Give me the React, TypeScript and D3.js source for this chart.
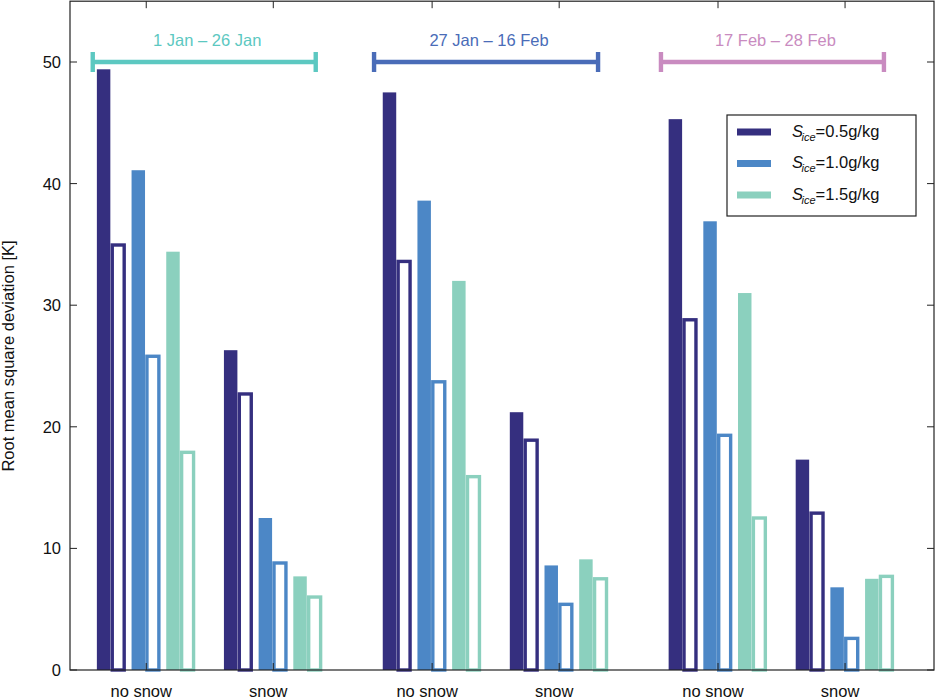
import * as d3 from "d3";

const W = 936;
const H = 698;
const FONT = "'Liberation Sans', Arial, Helvetica, sans-serif";

// groups along the x axis
const groupLabels = ["no snow", "snow", "no snow", "snow", "no snow", "snow"];
const groupPos = [1, 2, 3.25, 4.25, 5.5, 6.5];

// periods shown as brackets above the bars
const periodLabels = ["1 Jan – 26 Jan", "27 Jan – 16 Feb", "17 Feb – 28 Feb"];
const periodColors = ["#5cc8c1", "#4a6cb8", "#c98bc0"];
const periodStart = [0.579, 2.793, 5.051];
const periodEnd = [2.334, 4.556, 6.806];
const periodLevel = 50;

// S_ice series
const seriesLabels = ["0.5", "1.0", "1.5"];
const seriesColors = ["#352f7f", "#4c87c6", "#8bd0be"];

// filled bars / hollow bars, one value per group
const filled05 = [49.4, 26.3, 47.5, 21.2, 45.3, 17.3];
const hollow05 = [34.95, 22.7, 33.6, 18.9, 28.8, 12.9];
const filled10 = [41.1, 12.5, 38.6, 8.6, 36.9, 6.8];
const hollow10 = [25.8, 8.8, 23.7, 5.4, 19.3, 2.6];
const filled15 = [34.4, 7.7, 32.0, 9.1, 31.0, 7.5];
const hollow15 = [17.9, 6.0, 15.9, 7.5, 12.5, 7.7];

const filledValues = [filled05, filled10, filled15];
const hollowValues = [hollow05, hollow10, hollow15];

const yTicks = [0, 10, 20, 30, 40, 50];

export default function App() {
  const plot = { left: 70, right: 934, top: 1.2, bottom: 670 };

  const x = d3.scaleLinear().domain([0.4, 7.2]).range([plot.left, plot.right]);
  const y = d3.scaleLinear().domain([0, 55]).range([plot.bottom, plot.top]);

  const unit = x(1) - x(0);
  const pairOffset = [-0.278, -0.005, 0.268];
  const barShift = 0.0575;
  const filledW = 0.106 * unit;
  const hollowW = 0.094 * unit;
  const hollowStroke = 3.4;
  const tickLen = 7;
  const fs = 16.5;

  return (
    <svg
      width={W}
      height={H}
      viewBox={`0 0 ${W} ${H}`}
      style={{ position: "absolute", left: 0, top: 0, background: "#fff" }}
      fontFamily={FONT}
    >
      <rect x={0} y={0} width={W} height={H} fill="#fff" />

      {/* bars */}
      {groupPos.map((gp, gi) =>
        seriesColors.map((c, si) => {
          const cx = gp + pairOffset[si];
          const fv = filledValues[si][gi];
          const hv = hollowValues[si][gi];
          return (
            <g key={`${gi}-${si}`}>
              <rect
                x={x(cx - barShift) - filledW / 2}
                y={y(fv)}
                width={filledW}
                height={y(0) - y(fv)}
                fill={c}
              />
              <rect
                x={x(cx + barShift) - hollowW / 2}
                y={y(hv)}
                width={hollowW}
                height={y(0) - y(hv)}
                fill="#fff"
                stroke={c}
                strokeWidth={hollowStroke}
              />
            </g>
          );
        })
      )}

      {/* axes box */}
      <rect
        x={plot.left}
        y={plot.top}
        width={plot.right - plot.left}
        height={plot.bottom - plot.top}
        fill="none"
        stroke="#222"
        strokeWidth={1.2}
      />

      {/* x ticks (bottom & top, inward) */}
      {groupPos.map((gp, i) => (
        <g key={`xt${i}`} stroke="#222" strokeWidth={1}>
          <line x1={x(gp)} x2={x(gp)} y1={plot.bottom} y2={plot.bottom - tickLen} />
          <line x1={x(gp)} x2={x(gp)} y1={plot.top} y2={plot.top + tickLen} />
        </g>
      ))}
      {groupPos.map((gp, i) => (
        <text
          key={`xl${i}`}
          x={x(gp) - 5}
          y={696.5}
          textAnchor="middle"
          fontSize={fs}
          fill="#111"
        >
          {groupLabels[i]}
        </text>
      ))}

      {/* y ticks */}
      {yTicks.map((t) => (
        <g key={`yt${t}`}>
          <line x1={plot.left} x2={plot.left + tickLen} y1={y(t)} y2={y(t)} stroke="#222" />
          <line x1={plot.right} x2={plot.right - tickLen} y1={y(t)} y2={y(t)} stroke="#222" />
          <text x={plot.left - 9} y={y(t) + 6} textAnchor="end" fontSize={fs} fill="#111">
            {t}
          </text>
        </g>
      ))}

      <text
        transform={`translate(14,356) rotate(-90)`}
        textAnchor="middle"
        fontSize={fs}
        fill="#111"
      >
        Root mean square deviation [K]
      </text>

      {/* period brackets */}
      {periodLabels.map((p, i) => {
        const x0 = x(periodStart[i]);
        const x1 = x(periodEnd[i]);
        const yy = y(periodLevel);
        const c = periodColors[i];
        return (
          <g key={`p${i}`}>
            <line x1={x0} x2={x1} y1={yy} y2={yy} stroke={c} strokeWidth={4.4} />
            <line x1={x0} x2={x0} y1={yy - 10} y2={yy + 10} stroke={c} strokeWidth={4.4} />
            <line x1={x1} x2={x1} y1={yy - 10} y2={yy + 10} stroke={c} strokeWidth={4.4} />
            <text x={(x0 + x1) / 2 + 3} y={yy - 16} textAnchor="middle" fontSize={fs} fill={c}>
              {p}
            </text>
          </g>
        );
      })}

      {/* legend */}
      <g>
        <rect x={727} y={115} width={189} height={101} fill="#fff" stroke="#222" strokeWidth={1.2} />
        {seriesLabels.map((s, i) => {
          const ly = 132 + i * 31.5;
          return (
            <g key={`lg${i}`}>
              <line x1={737} x2={771} y1={ly} y2={ly} stroke={seriesColors[i]} strokeWidth={7} />
              <text x={792} y={ly + 4.5} fontSize={fs} fill="#111">
                <tspan fontStyle="italic">S</tspan>
                <tspan fontStyle="italic" fontSize={11} dx={-1.5} dy={4}>
                  ice
                </tspan>
                <tspan dy={-4}>{`=${s}g/kg`}</tspan>
              </text>
            </g>
          );
        })}
      </g>
    </svg>
  );
}
